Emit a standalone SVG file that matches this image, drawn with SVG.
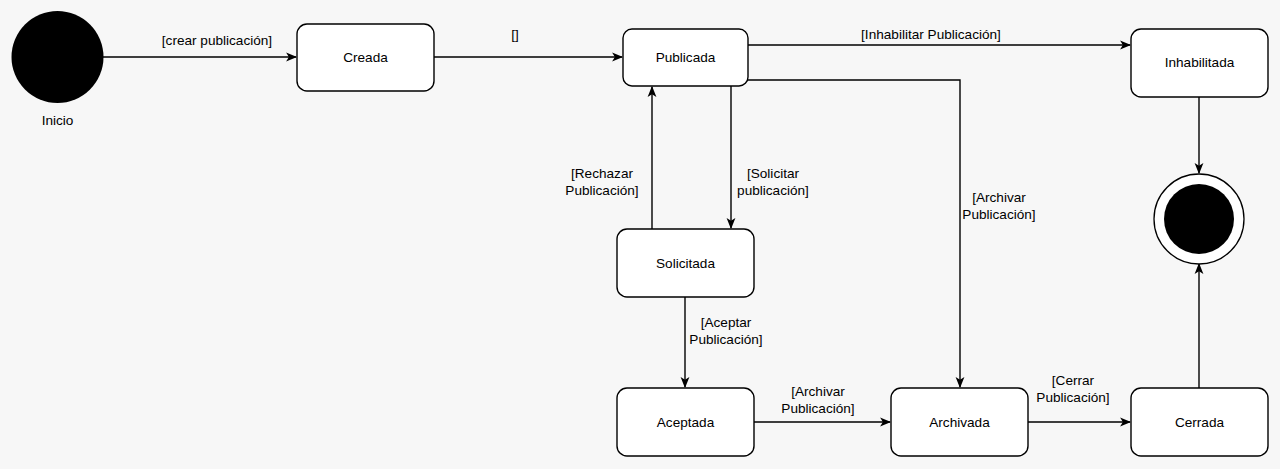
<svg xmlns="http://www.w3.org/2000/svg" width="1280" height="469" viewBox="0 0 1280 469">
<defs>
<style>
.bg{fill:#f7f7f7}
.st{fill:#fff;stroke:#000;stroke-width:1.4}
.t{font-family:"Liberation Sans",Arial,sans-serif;font-size:13.6px;fill:#000;text-anchor:middle}
.c{fill:none;stroke:#000;stroke-width:1.4}
</style>
<marker id="a" viewBox="0 0 10 10" refX="9" refY="5" markerWidth="11" markerHeight="11" markerUnits="userSpaceOnUse" orient="auto">
<path d="M0,1 L10,5 L0,9 L2.5,5 Z" fill="#000"/>
</marker>
</defs>
<rect class="bg" width="1280" height="469"/>
<g id="connectors">
<path class="c" d="M103,57 H296" marker-end="url(#a)"/>
<path class="c" d="M434,57 H622" marker-end="url(#a)"/>
<path class="c" d="M748,45 H1130" marker-end="url(#a)"/>
<path class="c" d="M748,80 H960 V387" marker-end="url(#a)"/>
<path class="c" d="M731,86 V228" marker-end="url(#a)"/>
<path class="c" d="M652,229 V87" marker-end="url(#a)"/>
<path class="c" d="M685,297 V387" marker-end="url(#a)"/>
<path class="c" d="M754,422 H890" marker-end="url(#a)"/>
<path class="c" d="M1028,422 H1130" marker-end="url(#a)"/>
<path class="c" d="M1199,97 V173" marker-end="url(#a)"/>
<path class="c" d="M1199,388 V264" marker-end="url(#a)"/>
<text class="t" x="217" y="45">[crear publicación]</text>
<text class="t" x="515" y="39">[]</text>
<text class="t" x="931" y="39">[Inhabilitar Publicación]</text>
<text class="t" x="999" y="202">[Archivar</text>
<text class="t" x="999" y="219">Publicación]</text>
<text class="t" x="602" y="178">[Rechazar</text>
<text class="t" x="602" y="195">Publicación]</text>
<text class="t" x="773" y="178">[Solicitar</text>
<text class="t" x="773" y="195">publicación]</text>
<text class="t" x="726" y="327">[Aceptar</text>
<text class="t" x="726" y="344">Publicación]</text>
<text class="t" x="818" y="396">[Archivar</text>
<text class="t" x="818" y="413">Publicación]</text>
<text class="t" x="1073" y="385">[Cerrar</text>
<text class="t" x="1073" y="402">Publicación]</text>
</g>
<g id="inicio">
<circle cx="57.5" cy="57" r="46" fill="#000"/>
<text class="t" x="57.5" y="125">Inicio</text>
</g>
<g id="creada">
<rect class="st" x="297" y="24" width="137" height="67" rx="10"/>
<text class="t" x="365.5" y="62">Creada</text>
</g>
<g id="publicada">
<rect class="st" x="623" y="29" width="125" height="57" rx="9"/>
<text class="t" x="685.5" y="62">Publicada</text>
</g>
<g id="inhabilitada">
<rect class="st" x="1131" y="29" width="137" height="68" rx="10"/>
<text class="t" x="1199.5" y="67">Inhabilitada</text>
</g>
<g id="solicitada">
<rect class="st" x="617" y="229" width="137" height="68" rx="10"/>
<text class="t" x="685.5" y="268">Solicitada</text>
</g>
<g id="aceptada">
<rect class="st" x="617" y="388" width="137" height="68" rx="10"/>
<text class="t" x="685.5" y="427">Aceptada</text>
</g>
<g id="archivada">
<rect class="st" x="891" y="388" width="137" height="68" rx="10"/>
<text class="t" x="959.5" y="427">Archivada</text>
</g>
<g id="cerrada">
<rect class="st" x="1131" y="388" width="137" height="68" rx="10"/>
<text class="t" x="1199.5" y="427">Cerrada</text>
</g>
<g id="fin">
<circle cx="1199" cy="219" r="45" fill="#fff" stroke="#000" stroke-width="1.3"/>
<circle cx="1199" cy="219" r="35" fill="#000"/>
</g>
</svg>
